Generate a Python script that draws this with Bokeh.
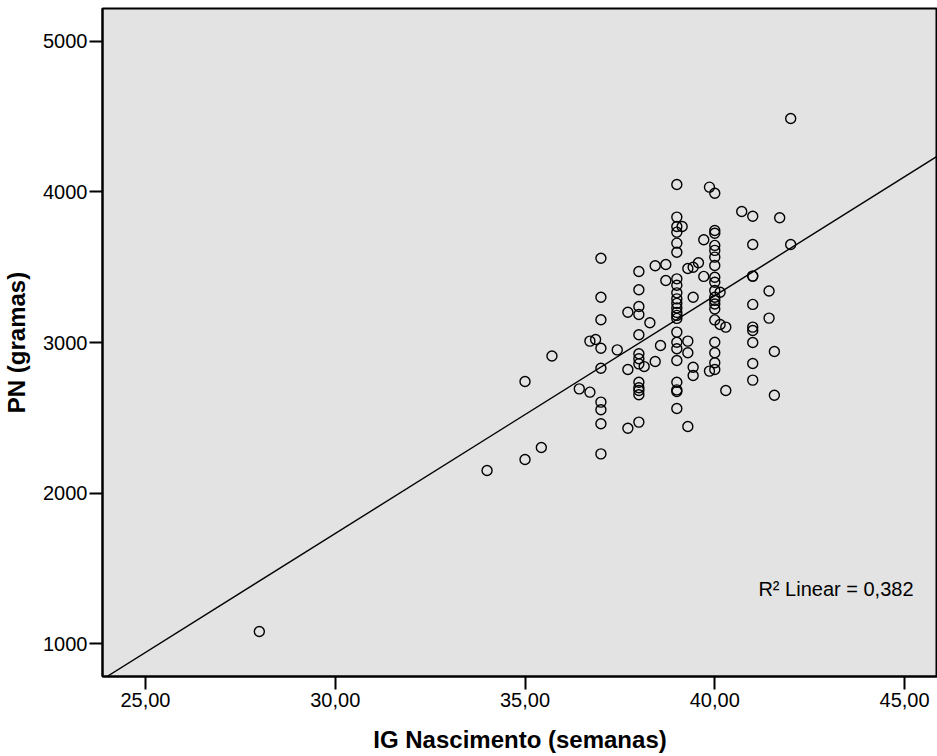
from bokeh.plotting import figure
from bokeh.models import FixedTicker, Slope, Label, Range1d
from bokeh.embed import file_html
from bokeh.resources import INLINE

# IG Nascimento (semanas) and PN (gramas)
ig = [28, 34, 35, 35, 35.43, 35.71, 36.43, 36.71, 36.71, 36.86,
      37, 37, 37, 37, 37, 37, 37, 37, 37,
      37.43, 37.71, 37.71, 37.71,
      38, 38, 38, 38, 38, 38, 38, 38, 38, 38, 38, 38, 38,
      38.14, 38.29, 38.43, 38.43, 38.57, 38.71, 38.71,
      39, 39, 39, 39, 39, 39, 39, 39, 39, 39, 39, 39, 39, 39, 39, 39, 39, 39, 39, 39, 39, 39, 39,
      39.14, 39.29, 39.29, 39.29, 39.29, 39.43, 39.43, 39.43, 39.43, 39.57, 39.71, 39.71,
      39.86, 39.86,
      40, 40, 40, 40, 40, 40, 40, 40, 40, 40, 40, 40, 40, 40, 40, 40, 40, 40, 40,
      40.14, 40.14, 40.29, 40.29, 40.71,
      41, 41, 41, 41, 41, 41, 41, 41, 41, 41,
      41.43, 41.43, 41.57, 41.57, 41.71, 42, 42, 42.29]
pn = [1080, 2150, 2741, 2223, 2302, 2910, 2692, 3009, 2670, 3020,
      3560, 3301, 3151, 2962, 2829, 2604, 2553, 2460, 2260,
      2951, 3201, 2821, 2430,
      3472, 3350, 3239, 3186, 3051, 2925, 2892, 2858, 2736, 2699, 2681, 2653, 2471,
      2840, 3131, 3510, 2874, 2980, 3518, 3412,
      4050, 3833, 3771, 3733, 3660, 3600, 3423, 3380, 3330, 3290, 3260, 3230, 3200, 3180, 3160,
      3069, 3002, 2958, 2880, 2736, 2685, 2562,
      2674, 3771, 3009, 2932, 2442, 3492, 3301, 2836, 2781, 3500, 3530, 3439,
      3683, 2810,
      4032, 3744, 3726, 3645, 3612, 3567, 3512, 3434, 3400, 3345, 3301, 3280, 3256, 3223, 3150,
      3002, 2932, 2865, 2821,
      3992, 3334, 3120, 2681, 3102,
      3870, 3839, 3651, 3441, 3253, 3102, 3080, 3000, 2860, 2750,
      3441, 3342, 3162, 2940, 2650, 3829, 3651, 4488]

x_ticks = [25, 30, 35, 40, 45]
x_tick_labels = ["25,00", "30,00", "35,00", "40,00", "45,00"]
y_ticks = [1000, 2000, 3000, 4000, 5000]

fit_slope = 158.0
fit_intercept = -3009.0
r2_text = "R\u00b2 Linear = 0,382"
x_title = "IG Nascimento (semanas)"
y_title = "PN (gramas)"

FONT = "Liberation Sans"

p = figure(width=937, height=756, output_backend="svg", toolbar_location=None,
           x_range=Range1d(23.868, 45.868), y_range=Range1d(781, 5219),
           min_border_left=101, min_border_right=0, min_border_top=8,
           min_border_bottom=80)
p.background_fill_color = "#e3e3e3"
p.border_fill_color = "white"
p.grid.visible = False
p.outline_line_color = "black"
p.outline_line_width = 2

p.add_layout(Slope(gradient=fit_slope, y_intercept=fit_intercept,
                   line_color="black", line_width=1.4))

p.scatter(ig, pn, marker="circle", size=10, fill_color=None,
          line_color="black", line_width=1.4)

p.add_layout(Label(x=41.15, y=1365, text=r2_text, text_font=FONT,
                   text_font_size="20px", text_color="black",
                   text_align="left", text_baseline="middle"))

for ax in (p.xaxis[0], p.yaxis[0]):
    ax.major_tick_out = 13
    ax.major_tick_in = 0
    ax.minor_tick_line_color = None
    ax.major_tick_line_width = 2
    ax.axis_line_width = 2
    ax.major_label_text_font = FONT
    ax.major_label_text_font_size = "20px"
    ax.major_label_text_color = "black"
    ax.axis_label_text_font = FONT
    ax.axis_label_text_font_size = "24px"
    ax.axis_label_text_font_style = "bold"
    ax.axis_label_text_color = "black"

p.xaxis.ticker = FixedTicker(ticks=x_ticks)
p.xaxis.major_label_overrides = dict(zip(x_ticks, x_tick_labels))
p.xaxis.axis_label = x_title
p.xaxis.major_label_standoff = 3
p.xaxis.axis_label_standoff = 16

p.yaxis.ticker = FixedTicker(ticks=y_ticks)
p.yaxis.axis_label = y_title
p.yaxis.major_label_standoff = 2
p.yaxis.axis_label_standoff = 10

open("out.html", "w").write(file_html(p, INLINE))
